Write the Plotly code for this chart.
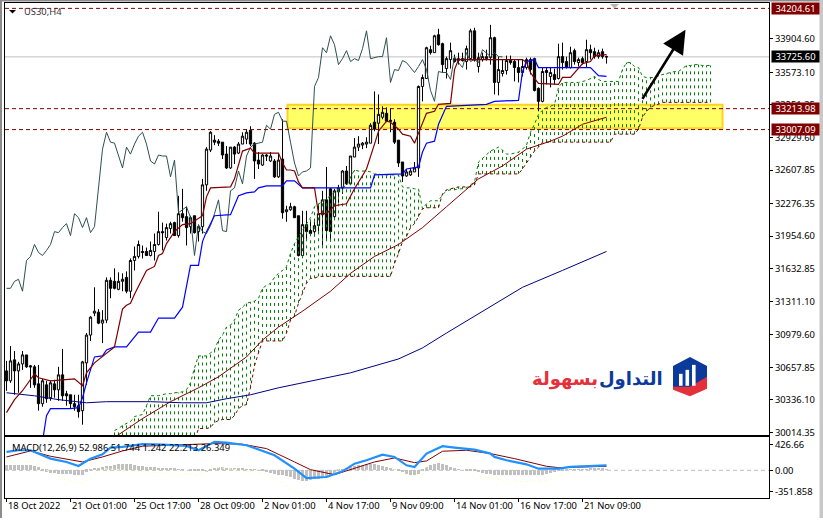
import plotly.graph_objects as go

W, H = 823, 521

# ---------------- candles (one value per 4H bar) ----------------
opens = [30623,30525,30732,30623,30692,30781,30673,30663,30495,30299,
30485,30358,30495,30436,30584,30397,30387,30299,30279,30230,
30702,30977,31194,31203,31095,31125,31518,31508,31429,31508,
31547,31410,31714,31754,31803,31803,31763,31803,31872,31999,
31940,32029,32088,31960,32176,32147,32048,32156,31999,32048,
32461,32805,32903,32893,32883,32765,32628,32834,32775,32864,
32913,33001,32873,32706,32657,32756,32697,32697,32540,32716,
32196,32215,32245,32156,31763,32068,32009,31999,32058,32166,
32313,32422,32147,32392,32431,32598,32471,32736,32834,32854,
32864,32873,33080,33070,33129,33168,33099,33080,32903,32687,
32549,32559,32589,32628,33433,33512,33797,33767,33944,33856,
33610,33699,33708,33689,33708,33679,33708,33983,33630,33699,
33708,33718,33915,33473,33561,33591,33689,33679,33620,33571,
33620,33699,33708,33414,33286,33591,33532,33551,33512,33728,
33679,33620,33787,33669,33708,33679,33797,33777,33728,33777,33728]
highs = [30722,30869,30820,30712,30820,30781,30682,30682,30682,30544,
30525,30525,30535,30663,30840,30426,30387,30387,30387,30722,
30997,31164,31449,31233,31223,31547,31547,31636,31597,31587,
31606,31734,31852,31911,31862,31842,31901,31980,32196,32088,
32078,32097,32097,32353,32422,32245,32156,32156,32068,32520,
32834,32991,32952,32913,32883,32844,32834,32844,32883,32981,
33011,33040,32883,32785,32765,32765,32785,32716,32765,33109,
32255,32284,32255,32156,32205,32205,32107,32127,32255,32402,
32638,32431,32422,32461,32608,32648,32746,32923,32942,32883,
32932,33070,33384,33355,33237,33227,33217,33109,32903,32687,
32618,32628,32687,33443,33551,33826,33836,33944,34003,33866,
33728,33866,33748,33767,33767,33836,34003,34013,33767,33767,
33797,34042,33925,33728,33699,33738,33738,33699,33699,33699,
33718,33718,33718,33424,33620,33620,33620,33610,33856,33866,
33728,33826,33807,33718,33728,33895,33846,33816,33797,33807,33738]
lows = [30426,30505,30387,30407,30633,30653,30456,30456,30230,30269,
30308,30328,30358,30328,30328,30279,30249,30230,30161,30092,
30485,30918,31164,31085,30898,31095,31341,31429,31420,31410,
31390,31341,31616,31734,31734,31763,31754,31714,31862,31813,
31911,31980,31960,31940,32097,31862,31980,31980,31901,31980,
32402,32785,32854,32844,32716,32618,32618,32667,32765,32864,
32864,32844,32520,32618,32648,32697,32687,32530,32530,32127,
32097,32205,32137,31754,31754,31921,31960,31950,31999,31862,
31911,31901,32127,32284,32372,32461,32471,32736,32795,32814,
32824,32873,32991,32864,33109,33080,32981,32864,32638,32490,
32540,32549,32589,32540,33286,33512,33748,33767,33836,33571,
33512,33610,33669,33649,33679,33600,33699,33679,33571,33679,
33689,33649,33355,33345,33532,33551,33649,33483,33473,33532,
33600,33551,33384,33188,33276,33453,33424,33453,33502,33600,
33610,33610,33649,33630,33649,33620,33699,33708,33708,33708,33659]
closes = [30525,30722,30623,30692,30781,30663,30663,30485,30299,30525,
30348,30505,30436,30584,30377,30377,30299,30269,30220,30712,
30977,31154,31213,31095,31125,31518,31439,31439,31508,31528,
31410,31714,31754,31872,31793,31763,31813,31872,31999,31989,
32039,32078,31960,32176,32137,32039,32137,31989,32048,32461,
32814,32981,32883,32873,32756,32628,32834,32765,32864,32942,
32981,32864,32697,32667,32756,32746,32746,32540,32706,32186,
32215,32245,32137,31763,32068,31999,31980,32058,32176,32313,
32009,31999,32402,32431,32598,32471,32746,32834,32864,32873,
32883,33050,33011,33158,33178,33090,33090,32883,32677,32549,
32589,32598,32628,33433,33522,33816,33767,33934,33846,33649,
33708,33787,33679,33708,33689,33807,33983,33708,33718,33728,
33728,33915,33473,33600,33591,33689,33669,33620,33571,33630,
33699,33600,33394,33286,33581,33571,33571,33502,33728,33669,
33620,33767,33679,33699,33669,33797,33767,33728,33767,33728,33725.6]

# ---------------- Ichimoku ----------------
tenkan_idx = [0,2,4,5,7,8,11,14,17,19,20,22,27,29,30,31,32,35,37,38,39,40,42,44,46,49,50,51,56,57,58,59,61,62,68,69,70,71,72,73,74,77,78,80,82,85,87,90,92,93,95,96,98,99,101,102,103,104,105,107,108,111,112,113,129,130,131,132,133,138,139,141,144,146,147,150]
tenkan = [30211,30339,30427,30486,30594,30555,30525,30535,30544,30476,30604,30702,30860,31233,31272,31292,31380,31616,31655,31763,31783,31881,31999,32068,32078,32156,32343,32431,32441,32520,32667,32795,32824,32775,32775,32677,32608,32608,32598,32490,32431,32431,32176,32176,32255,32274,32422,32618,32864,32991,33090,33080,33011,32962,32942,32873,32972,33070,33168,33188,33257,33266,33600,33699,33699,33669,33571,33512,33463,33453,33522,33522,33659,33679,33738,33748]
kijun_idx = [9,10,11,16,18,19,20,22,24,25,27,30,33,36,38,42,44,46,48,49,50,52,56,58,60,62,63,65,69,70,72,73,74,91,92,99,100,103,104,105,107,108,109,110,115,120,122,128,129,130,132,133,146,148,150]
kijun = [29925,30181,30250,30250,30260,30358,30505,30761,30771,30830,30860,30860,31007,31007,31145,31145,31253,31665,31665,31901,31999,32156,32166,32353,32382,32392,32431,32451,32451,32500,32500,32461,32431,32431,32559,32569,32618,32638,32785,32873,32893,33060,33148,33237,33247,33257,33286,33296,33581,33679,33699,33620,33620,33541,33532]
span_idx = list(range(27, 177))
span_a = [30035,30054,30084,30103,30123,30172,30182,30192,30280,30378,
30378,30378,30388,30398,30398,30408,30408,30417,30437,30506,
30653,30771,30771,30771,30801,30830,30928,30977,31056,31075,
31125,31223,31253,31292,31302,31312,31341,31439,31469,31488,
31547,31587,31616,31655,31783,31881,31950,32009,32068,32137,
32245,32274,32294,32323,32353,32392,32422,32441,32451,32540,
32608,32598,32598,32598,32589,32569,32569,32559,32559,32559,
32559,32559,32441,32431,32431,32422,32422,32225,32274,32304,
32304,32304,32363,32402,32412,32412,32422,32422,32431,32461,
32490,32687,32726,32756,32795,32814,32834,32805,32765,32765,
32775,32785,32814,32854,32981,33060,33158,33198,33227,33237,
33257,33424,33473,33473,33473,33473,33473,33483,33492,33512,
33532,33502,33483,33483,33483,33483,33483,33600,33669,33669,
33630,33620,33532,33522,33522,33522,33541,33551,33561,33571,
33581,33581,33610,33640,33640,33649,33649,33640,33640,33640]
span_b = [29917,29917,29917,29917,29917,29917,29917,29917,29917,29917,
29917,29917,29917,29917,29917,29917,29917,29917,29917,29917,
29917,30054,30054,30054,30064,30113,30133,30143,30143,30143,
30182,30251,30280,30290,30457,30673,30801,30919,30919,30919,
30919,30919,30919,30997,31125,31164,31292,31390,31488,31538,
31538,31557,31557,31557,31557,31557,31557,31557,31557,31557,
31557,31557,31557,31557,31557,31557,31557,31557,31557,31557,
31685,31783,31901,31950,32039,32078,32147,32225,32235,32235,
32235,32235,32372,32412,32422,32431,32441,32441,32441,32441,
32461,32569,32569,32569,32569,32569,32569,32569,32569,32569,
32569,32569,32618,32677,32736,32795,32834,32883,32883,32883,
32883,32883,32883,32883,32883,32883,32883,32883,32883,32883,
32883,32883,32883,32883,32883,32962,32962,32962,32962,32962,
32962,33011,33129,33188,33227,33247,33257,33276,33276,33276,
33276,33276,33276,33276,33276,33276,33276,33276,33276,33276]

# ---------------- moving averages ----------------
ma_red_idx = [27,34,41,48,53,60,64,68,74,81,86,92,98,104,110,118,124,130,136,139,144,150]
ma_red = [29966,30152,30319,30456,30565,30761,30928,31056,31213,31410,31587,31754,31872,32039,32245,32520,32648,32814,32893,32942,33060,33129]
ma_navy_idx = [0,7,13,20,25,36,44,50,55,61,68,74,86,98,104,110,119,129,139,150]
ma_navy = [30407,30377,30339,30308,30319,30319,30308,30308,30348,30387,30456,30505,30604,30741,30850,30997,31213,31449,31616,31803]

# ---------------- MACD panel ----------------
macd_idx = [0,3,6,9,11,15,18,21,24,26,29,34,39,45,48,52,55,60,64,67,72,75,80,84,87,90,94,97,100,102,105,109,112,117,121,122,125,130,133,138,141,145,150]
macd = [301,328,328,246,191,137,71,191,262,372,383,427,421,399,328,465,454,410,312,246,27,-126,-109,-17,109,164,257,219,82,55,273,394,372,339,273,219,164,98,27,27,55,66,82]
signal_idx = [0,6,11,19,24,29,34,45,52,59,65,72,76,82,87,92,97,102,105,109,115,121,127,135,138,148,150]
signal = [219,317,230,137,219,317,394,427,437,427,355,137,11,-71,27,137,202,126,153,312,328,273,191,66,44,55,66]
pale_idx = [0,6,15,19,24,48,52,65,73,78,85,90,98,102,107,114,118,126,135,141]
pale = [164,137,-164,-219,27,-82,55,-55,-383,-355,164,301,-27,-109,164,219,-82,-191,-164,-55]
hist = [80,85,82,80,82,78,75,55,50,-10,
-30,-45,-55,-60,-65,-70,-75,-80,-85,-85,
-30,10,25,30,40,60,70,85,98,100,
100,90,80,70,55,50,45,40,35,30,
25,20,15,10,5,0,-5,-10,-15,-20,
-35,-15,25,45,45,30,20,18,16,15,
12,5,3,0,-20,-35,-50,-65,-80,-90,
-100,-120,-150,-170,-180,-175,-165,-155,-145,-130,
-110,-90,-65,-15,10,25,45,65,75,85,
92,92,88,82,60,45,35,10,-10,-40,
-60,-80,-80,-60,-10,40,75,95,110,100,
80,50,25,5,0,-10,-20,-25,-35,-55,
-65,-70,-78,-82,-82,-82,-82,-82,-82,-82,
-85,-85,-85,-85,-80,-70,-50,-30,-25,-10,
5,8,10,10,10,12,15,18,18,15,12]

# ---------------- axis labels and levels ----------------
price_ticks = [33904.60,33573.10,33251.35,32929.60,32607.85,32276.35,31954.60,31632.85,31311.10,30979.60,30657.85,30336.10,30014.35]
macd_ticks = [426.66,0,-351.858]
macd_tick_text = ["426.66","0.00","-351.858"]
date_idx = [0,16,32,48,64,80,96,112,128,144]
date_labels = ["18 Oct 2022","21 Oct 01:00","25 Oct 17:00","28 Oct 09:00","2 Nov 01:00","4 Nov 17:00","9 Nov 09:00","14 Nov 01:00","16 Nov 17:00","21 Nov 09:00"]
red_levels = [34204.61,33213.98,33007.09]
last_price = 33725.60
zone_prices = [33021,33252]
zone_idx = [70.25,179]
arrow_from = (158.75,33296)
arrow_to = (169.75,33993)
macd_title = "MACD(12,26,9) 52.986 51.744 1.242 22.213 26.349"
symbol_title = "US30,H4"
logo_navy = "التداول"
logo_red = "بسهولة"

# ---------------- geometry of the window ----------------
PX_L, PX_R = 5, 769
PX_T, PX_B = 3, 438
PX_T2, PX_B2 = 440, 500.5
FONT = "Noto Sans"
FS = 9.4
DARK_RED = "#800000"
X_RANGE = [-0.375, 190.625]


def px(x):
    return x / W


def py(y):
    return 1 - y / H


fig = go.Figure()

hx, hy = [], []
for i, a, b in zip(span_idx, span_a, span_b):
    hx += [i, i, None]
    hy += [b, a, None]

fig.add_trace(go.Scatter(x=hx, y=hy, mode="lines", line=dict(color="#008000", width=1, dash="3px,4px"), hoverinfo="skip"))
fig.add_trace(go.Scatter(x=span_idx, y=span_a, mode="lines", line=dict(color="#008000", width=1, dash="3px,3px")))
fig.add_trace(go.Scatter(x=span_idx, y=span_b, mode="lines", line=dict(color=DARK_RED, width=1, dash="3px,3px")))
fig.add_trace(go.Candlestick(
    x=list(range(len(opens))), open=opens, high=highs, low=lows, close=closes,
    increasing=dict(line=dict(color="#000000", width=1), fillcolor="#ffffff"),
    decreasing=dict(line=dict(color="#000000", width=1), fillcolor="#000000"),
    whiskerwidth=0))
fig.add_trace(go.Scatter(x=[i - 26 for i in range(26, len(closes))], y=closes[26:], mode="lines",
                         line=dict(color="#2F4F4F", width=1)))
fig.add_trace(go.Scatter(x=ma_red_idx, y=ma_red, mode="lines", line=dict(color=DARK_RED, width=1)))
fig.add_trace(go.Scatter(x=ma_navy_idx, y=ma_navy, mode="lines", line=dict(color="#000080", width=1)))
fig.add_trace(go.Scatter(x=kijun_idx, y=kijun, mode="lines", line=dict(color="#0000FF", width=1.2)))
fig.add_trace(go.Scatter(x=tenkan_idx, y=tenkan, mode="lines", line=dict(color=DARK_RED, width=1.2)))

# MACD panel
fig.add_trace(go.Bar(x=list(range(len(hist))), y=hist, marker=dict(color="#C0C0C0", line=dict(width=0)),
                     width=0.75, xaxis="x2", yaxis="y2"))
fig.add_trace(go.Scatter(x=pale_idx, y=pale, mode="lines", line=dict(color="#FFFFC8", width=1, dash="dot"), xaxis="x2", yaxis="y2"))
fig.add_trace(go.Scatter(x=signal_idx, y=signal, mode="lines", line=dict(color=DARK_RED, width=1), xaxis="x2", yaxis="y2"))
fig.add_trace(go.Scatter(x=macd_idx, y=macd, mode="lines", line=dict(color="#1E90FF", width=2.2), xaxis="x2", yaxis="y2"))

shapes = []
# supply zone, behind the candles
shapes.append(dict(type="rect", xref="x", yref="y", x0=zone_idx[0], x1=zone_idx[1], y0=zone_prices[0], y1=zone_prices[1],
                   fillcolor="#FFFF66", line=dict(color="#FFD21E", width=2), layer="below"))
# horizontal levels
for lv in red_levels:
    shapes.append(dict(type="line", xref="x domain", yref="y", x0=0, x1=1, y0=lv, y1=lv,
                       line=dict(color=DARK_RED, width=1, dash="4px,3px")))
shapes.append(dict(type="line", xref="x domain", yref="y", x0=0, x1=1, y0=last_price, y1=last_price,
                   line=dict(color="#C0C0C0", width=1), layer="below"))
shapes.append(dict(type="line", xref="x2 domain", yref="y2", x0=0, x1=1, y0=0, y1=0,
                   line=dict(color="#C0C0C0", width=1, dash="4px,3px"), layer="below"))


def poly(points, color):
    path = "M " + " L ".join(f"{px(x):.5f},{py(y):.5f}" for x, y in points) + " Z"
    return dict(type="path", xref="paper", yref="paper", path=path, fillcolor=color, line=dict(width=0), layer="above")


# window edge
shapes.append(poly([(0, 0), (2, 0), (2, H), (0, H)], "#8c8c8c"))
shapes.append(poly([(0, 0), (W, 0), (W, 1.5), (0, 1.5)], "#8c8c8c"))
shapes.append(poly([(819.5, 0), (W, 0), (W, H), (819.5, H)], "#c8c8c8"))
# small markers
shapes.append(poly([(9, 10), (16, 10), (12.5, 13.5)], "#000000"))
shapes.append(poly([(610, 4), (619, 4), (614.5, 8.5)], "#b4b4b4"))
# logo
shapes.append(poly([(690, 359), (707, 368), (707, 382), (690, 391), (673, 391), (673, 368)], "#0B3A9A"))
shapes.append(poly([(673, 389), (690, 389), (707, 379), (707, 391), (690, 398.5), (673, 392)], "#E4303A"))
for bx, top in [(679, 376), (685.5, 372), (692, 367)]:
    shapes.append(poly([(bx, top), (bx + 3.6, top), (bx + 3.6, 388), (bx, 388)], "#ffffff"))

annotations = []
ann_font = dict(family=FONT, size=FS, color="#000000")
for i, t in zip(date_idx, date_labels):
    annotations.append(dict(xref="x2", yref="paper", x=i, y=py(508.5), text=t, showarrow=False,
                            xanchor="left", yanchor="middle", xshift=-1, font=ann_font))
annotations.append(dict(xref="paper", yref="paper", x=px(22), y=py(11.5), text=symbol_title, showarrow=False,
                        xanchor="left", yanchor="middle", font=dict(family=FONT, size=FS, color="#333333")))
annotations.append(dict(xref="paper", yref="paper", x=px(9.5), y=py(450), text=macd_title, showarrow=False,
                        xanchor="left", yanchor="middle", font=ann_font))
for lv in red_levels:
    annotations.append(dict(xref="paper", yref="y", x=px(771), y=lv, text=f"{lv:.2f}", showarrow=False,
                            xanchor="left", yanchor="middle", width=46, height=10, align="center", bgcolor=DARK_RED,
                            borderpad=0.5, font=dict(family=FONT, size=FS, color="#ffffff")))
annotations.append(dict(xref="paper", yref="y", x=px(771), y=last_price, text=f"{last_price:.2f}", showarrow=False,
                        xanchor="left", yanchor="middle", width=46, height=10, align="center", bgcolor="#000000",
                        borderpad=0.5, font=dict(family=FONT, size=FS, color="#ffffff")))
annotations.append(dict(xref="x", yref="y", axref="x", ayref="y", x=arrow_to[0], y=arrow_to[1],
                        ax=arrow_from[0], ay=arrow_from[1], showarrow=True, arrowhead=2, arrowsize=1.8,
                        arrowwidth=2.6, arrowcolor="#000000", text=""))
annotations.append(dict(xref="paper", yref="paper", x=px(665), y=py(381), text=f"<b>{logo_navy}</b>", showarrow=False,
                        xanchor="right", yanchor="middle", font=dict(family="DejaVu Sans", size=18, color="#0B3A9A")))
annotations.append(dict(xref="paper", yref="paper", x=px(600), y=py(381), text=f"<b>{logo_red}</b>", showarrow=False,
                        xanchor="right", yanchor="middle", font=dict(family="DejaVu Sans", size=18, color="#E4303A")))

axis_common = dict(showgrid=False, zeroline=False, showline=True, linecolor="#000000", linewidth=1, mirror=True)
fig.update_layout(
    width=W, height=H, autosize=False, margin=dict(l=0, r=0, t=0, b=0, pad=0),
    paper_bgcolor="#ffffff", plot_bgcolor="#ffffff", showlegend=False, bargap=0, boxgap=0.2,
    font=dict(family=FONT, size=FS, color="#000000"),
    xaxis=dict(domain=[px(PX_L), px(PX_R)], range=X_RANGE, showticklabels=False, ticks="",
               rangeslider=dict(visible=False), anchor="y", **axis_common),
    yaxis=dict(domain=[py(PX_B), py(PX_T)], range=[29985, 34258], side="right", anchor="x",
               tickmode="array", tickvals=price_ticks, ticktext=[f"{v:.2f}" for v in price_ticks],
               ticks="outside", ticklen=3, tickcolor="#000000", tickfont=dict(family=FONT, size=FS), **axis_common),
    xaxis2=dict(domain=[px(PX_L), px(PX_R)], range=X_RANGE, anchor="y2", tickmode="array", tickvals=date_idx,
                ticktext=["" for _ in date_idx], ticks="outside", ticklen=3, tickcolor="#000000", **axis_common),
    yaxis2=dict(domain=[py(PX_B2), py(PX_T2)], range=[-446, 537], side="right", anchor="x2",
                tickmode="array", tickvals=macd_ticks, ticktext=macd_tick_text,
                ticks="outside", ticklen=3, tickcolor="#000000", tickfont=dict(family=FONT, size=FS), **axis_common),
    shapes=shapes, annotations=annotations,
)

fig.write_html("out.html", post_script="document.body.style.margin='0';", config={"displayModeBar": False})
